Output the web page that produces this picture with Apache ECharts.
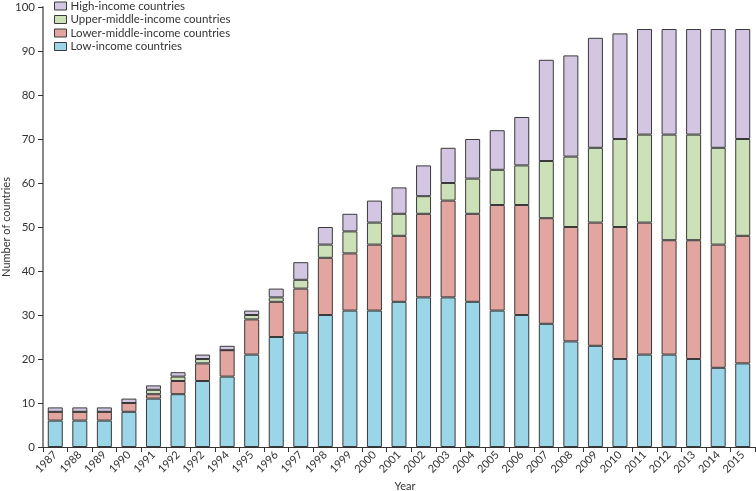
<!DOCTYPE html>
<html>
<head>
<meta charset="utf-8">
<script src="https://cdn.jsdelivr.net/npm/echarts@6/dist/echarts.min.js"></script>
<style>html,body{margin:0;padding:0;background:#fff}#c{width:756px;height:491px}</style>
</head>
<body>
<div id="c"></div>
<script>
const years = ['1987','1988','1989','1990','1991','1992','1992','1994','1995','1996','1997','1998','1999','2000','2001','2002','2003','2004','2005','2006','2007','2008','2009','2010','2011','2012','2013','2014','2015'];
const lowIncome =        [6,6,6,8,11,12,15,16,21,25,26,30,31,31,33,34,34,33,31,30,28,24,23,20,21,21,20,18,19];
const lowerMiddle =      [2,2,2,2,1,3,4,6,8,8,10,13,13,15,15,19,22,20,24,25,24,26,28,30,30,26,27,28,29];
const upperMiddle =      [0,0,0,0,1,1,1,0,1,1,2,3,5,5,5,4,4,8,8,9,13,16,17,20,20,24,24,22,22];
const highIncome =       [1,1,1,1,1,1,1,1,1,2,4,4,4,5,6,7,8,9,9,11,23,23,25,24,24,24,24,27,25];
const seriesNames = ['Low-income countries','Lower-middle-income countries','Upper-middle-income countries','High-income countries'];
const colors = ['#9bd5e8','#e2a5a0','#cce1b7','#d2c6e2'];
const xTitle = 'Year';
const yTitle = 'Number of countries';

const font = 'Lato';
const data = [lowIncome, lowerMiddle, upperMiddle, highIncome];
const series = data.map((d, i) => ({
  name: seriesNames[i],
  type: 'bar',
  stack: 'total',
  barWidth: 15,
  data: d,
  itemStyle: { color: colors[i], borderColor: '#3a3a3a', borderWidth: 1 },
  emphasis: { disabled: true }
}));

const chart = echarts.init(document.getElementById('c'), null, { renderer: 'canvas' });
chart.setOption({
  animation: false,
  textStyle: { fontFamily: font },
  grid: { left: 43, right: 1, top: 7, bottom: 44, containLabel: false, outerBoundsMode: 'none' },
  legend: {
    orient: 'vertical',
    left: 54,
    top: 0,
    padding: 0,
    itemWidth: 12,
    itemHeight: 8,
    itemGap: 1.5,
    icon: 'rect',
    data: ['High-income countries','Upper-middle-income countries','Lower-middle-income countries','Low-income countries'],
    textStyle: { fontFamily: font, fontSize: 11.5, color: '#333', lineHeight: 11, padding: [0,0,0,-1] },
    itemStyle: { borderColor: '#3a3a3a', borderWidth: 1 }
  },
  graphic: [
    { type: 'text', x: 405, y: 486, style: { text: xTitle, fontFamily: font, fontSize: 11, fill: '#333', align: 'center', verticalAlign: 'middle' } },
    { type: 'text', x: 6, y: 227, rotation: Math.PI / 2, style: { text: yTitle, fontFamily: font, fontSize: 11, fill: '#333', align: 'center', verticalAlign: 'middle' } }
  ],
  xAxis: {
    type: 'category',
    data: years,
    axisLine: { lineStyle: { color: '#333', width: 1 } },
    axisTick: { show: true, length: 5, lineStyle: { color: '#333' } },
    axisLabel: { rotate: 45, fontFamily: font, fontSize: 11, color: '#333', margin: 6, interval: 0 }
  },
  yAxis: {
    type: 'value',
    min: 0,
    max: 100,
    interval: 10,
    axisLine: { show: true, lineStyle: { color: '#888', width: 2 } },
    axisTick: { show: true, length: 5, lineStyle: { color: '#333' } },
    axisLabel: { fontFamily: font, fontSize: 11.5, color: '#333', margin: 8 },
    splitLine: { show: false }
  },
  series: series
});
</script>
</body>
</html>
